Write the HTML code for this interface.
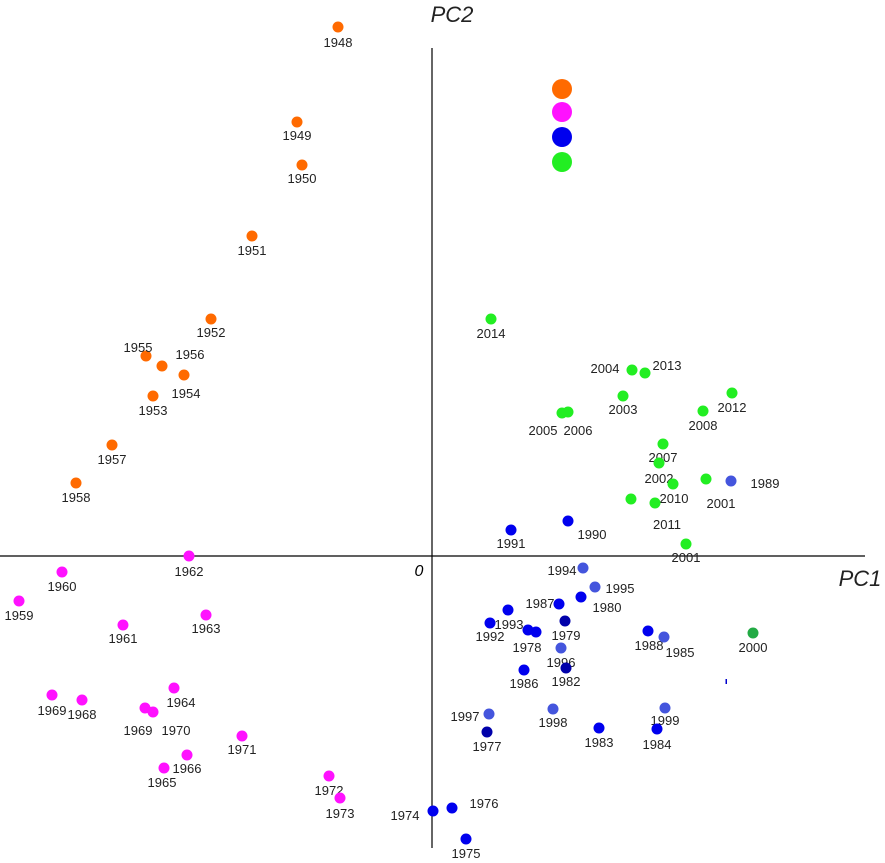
<!DOCTYPE html>
<html><head><meta charset="utf-8"><style>
html,body{margin:0;padding:0;background:#fff;}
svg{display:block;font-family:"Liberation Sans",sans-serif;}
.lbl{font-size:13px;fill:#222;}
.ax{font-size:22px;font-style:italic;fill:#222;}
</style></head><body>
<svg id="chart" width="885" height="863">
<line x1="0" y1="556" x2="865" y2="556" stroke="#000" stroke-width="1.2"/>
<line x1="432" y1="48" x2="432" y2="848" stroke="#000" stroke-width="1.2"/>
<text x="452" y="22" class="ax" text-anchor="middle">PC2</text>
<text x="860" y="586" class="ax" text-anchor="middle">PC1</text>
<text x="419" y="576" style="font-size:16px;font-style:italic" text-anchor="middle">0</text>
<circle cx="562" cy="89" r="10" fill="#ff6a00"/>
<circle cx="562" cy="112" r="10" fill="#ff11ff"/>
<circle cx="562" cy="137" r="10" fill="#0000ee"/>
<circle cx="562" cy="162" r="10" fill="#22ee22"/>
<rect x="725.5" y="679" width="1.5" height="5" fill="#0000cc"/>
<g id="pts"></g>
</svg>
<script>
// PC scores (x = PC1, y = PC2)
const labels = ["1948","1949","1950","1951","1952","1955","1956","1954","1953","1957","1958",
"1962","1960","1959","1961","1963","1964","1969","1968","1969","1970","1971","1966","1965","1972","1973",
"1991","1990","1994","1995","1980","1987","1979","1993","1992","1978","","1996","1982","1986","1988","1985","2000","1997","1977","1998","1983","1999","1984","1974","1976","1975",
"2014","2004","2013","2003","2005","2006","2012","2008","2007","2002","2010","2001","1989","","2011","2001"];
const pc1 = [-0.94,-1.35,-1.30,-1.80,-2.21,-2.86,-2.70,-2.48,-2.79,-3.20,-3.56,
-2.43,-3.70,-4.13,-3.09,-2.26,-2.58,-3.80,-3.50,-2.87,-2.79,-1.90,-2.45,-2.68,-1.03,-0.92,
0.79,1.36,1.51,1.63,1.49,1.27,1.33,0.76,0.58,0.96,1.04,1.29,1.34,0.92,2.16,2.32,3.21,0.57,0.55,1.21,1.67,2.33,2.25,0.01,0.20,0.34,
0.59,2.00,2.13,1.91,1.30,1.36,3.00,2.71,2.31,2.27,2.41,2.74,2.99,1.99,2.23,2.54];
const pc2 = [5.29,4.34,3.91,3.20,2.37,2.00,1.90,1.81,1.60,1.11,0.73,
0.00,-0.16,-0.45,-0.69,-0.59,-1.32,-1.39,-1.44,-1.52,-1.56,-1.80,-1.99,-2.12,-2.20,-2.42,
0.26,0.35,-0.12,-0.31,-0.41,-0.48,-0.65,-0.54,-0.67,-0.74,-0.76,-0.92,-1.12,-1.14,-0.75,-0.81,-0.77,-1.58,-1.76,-1.53,-1.72,-1.52,-1.73,-2.55,-2.52,-2.83,
2.37,1.86,1.83,1.60,1.43,1.44,1.63,1.45,1.12,0.93,0.72,0.77,0.75,0.57,0.53,0.12];
const groups = ["o","o","o","o","o","o","o","o","o","o","o",
"m","m","m","m","m","m","m","m","m","m","m","m","m","m","m",
"b","b","l","l","b","b","d","b","b","b","b","l","d","b","b","l","g","l","d","l","b","l","b","b","b","b",
"G","G","G","G","G","G","G","G","G","G","G","G","l","G","G","G"];
// label offsets (layout, not data)
const ldx=[0,0,0,0,0,-8,28,2,0,0,0, 0,0,0,0,0,7,0,0,-7,23,0,0,-2,0,0,
0,24,-21,25,26,-19,1,1,0,-1,0,0,0,0,1,16,0,-24,0,0,0,0,0,-28,32,0,
0,-27,22,0,-19,10,0,0,0,0,1,15,34,0,12,0];
const ldy=[15,13,13,14,13,-9,-12,18,14,14,14, 15,14,14,13,13,14,15,14,22,18,13,13,14,14,15,
13,13,2,1,10,-1,14,14,13,17,0,14,13,13,14,15,14,2,14,13,14,12,15,4,-5,14,
14,-2,-8,13,17,18,14,14,13,15,14,24,2,0,21,13];
const colors={o:"#ff6a00",m:"#ff11ff",b:"#0000ee",d:"#0000aa",l:"#4455dd",g:"#22aa44",G:"#22ee22"};
const X0=432,Y0=556,S=100;
const sx=v=>X0+v*S, sy=v=>Y0-v*S;
const g=document.getElementById('pts');
const NS="http://www.w3.org/2000/svg";
for(let i=0;i<pc1.length;i++){
  const c=document.createElementNS(NS,'circle');
  c.setAttribute('cx',sx(pc1[i]));c.setAttribute('cy',sy(pc2[i]));c.setAttribute('r',5.5);
  c.setAttribute('fill',colors[groups[i]]);
  
  
  g.appendChild(c);
  if(labels[i]){
    const t=document.createElementNS(NS,'text');
    t.setAttribute('x',sx(pc1[i])+ldx[i]);t.setAttribute('y',sy(pc2[i])+ldy[i]+5);
    t.setAttribute('text-anchor','middle');t.setAttribute('class','lbl');
    t.textContent=labels[i];
    
    
    g.appendChild(t);
  }
}
</script>
</body></html>
